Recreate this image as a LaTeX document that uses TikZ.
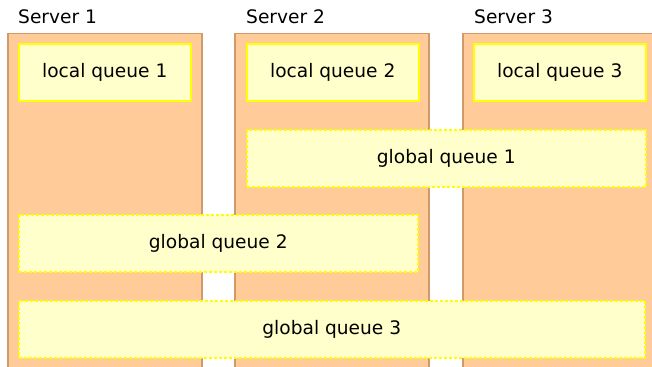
\documentclass[tikz,border=0pt]{standalone}
\usepackage{fontspec}
\setmainfont{DejaVu Sans}
\definecolor{srvfill}{HTML}{FFCC99}
\definecolor{srvline}{HTML}{D09A6A}
\definecolor{qfill}{HTML}{FFFFCC}
\definecolor{qline}{HTML}{FFFF00}
\begin{document}
\begin{tikzpicture}[x=1bp,y=-1bp,
  server/.style={draw=srvline,fill=srvfill,line width=1.5bp,minimum width=194bp,minimum height=360bp,anchor=north west,inner sep=0pt},
  lqueue/.style={draw=qline,fill=qfill,line width=1.5bp,minimum width=172bp,minimum height=57bp,anchor=north west,inner sep=0pt,font=\fontsize{18.6bp}{22bp}\selectfont},
  gqueue/.style={draw=qline,fill=qfill,line width=1.5bp,dash pattern=on 3bp off 2bp,minimum height=57bp,anchor=north west,inner sep=0pt,font=\fontsize{18.6bp}{22bp}\selectfont},
  slabel/.style={anchor=west,inner sep=0pt,font=\fontsize{18.6bp}{22bp}\selectfont}]
\useasboundingbox (0,0) rectangle (652,366);
\clip (0,0) rectangle (652,366);
\node[server] (s1) at (7,32.5) {};
\node[server] (s2) at (234,32.5) {};
\node[server] (s3) at (462,32.5) {};
\node[slabel] (l1) at (18,17) {Server 1};
\node[slabel] (l2) at (246,17) {Server 2};
\node[slabel] (l3) at (474,17) {Server 3};
\node[lqueue] (q1) at (18,43) {local queue 1};
\node[lqueue] (q2) at (246,43) {local queue 2};
\node[lqueue] (q3) at (473,43) {local queue 3};
\node[gqueue,minimum width=399bp] (g1) at (246,129) {global queue 1};
\node[gqueue,minimum width=399bp] (g2) at (18,214) {global queue 2};
\node[gqueue,minimum width=626bp] (g3) at (18,300) {global queue 3};
\end{tikzpicture}
\end{document}
